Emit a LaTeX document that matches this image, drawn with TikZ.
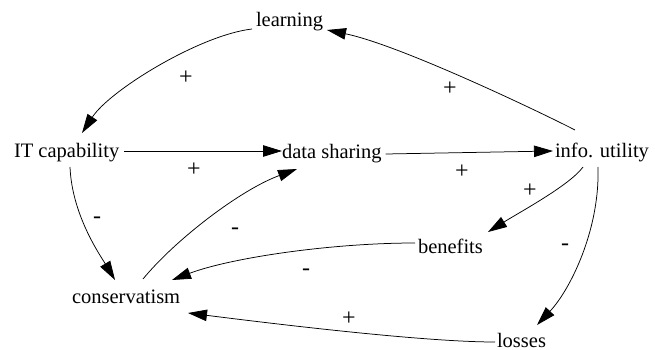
\documentclass[tikz,border=0pt]{standalone}
\usepackage{fontspec}
\setmainfont{Liberation Serif}
\usetikzlibrary{arrows.meta,calc}
\begin{document}
\begin{tikzpicture}[x=1pt,y=-1pt,
  var/.style={inner sep=0pt,outer sep=0pt,anchor=base west,font=\fontsize{20.5}{24}\selectfont},
  sgn/.style={inner sep=0pt,outer sep=0pt,font=\fontsize{24}{28}\selectfont},
  link/.style={line width=0.75pt,-{Triangle[length=19pt,width=11.5pt]}}]
\useasboundingbox (0,0) rectangle (655,350);
% variables
\node[var] (learning) at (256,27) {learning};
\node[var] (itcap) at (14,157) {IT capability};
\node[var] (data) at (282,158) {data sharing};
\node[var] (info) at (555,157) {info. utility};
\node[var] (benefits) at (418,253) {benefits};
\node[var] (cons) at (72,303) {conservatism};
\node[var] (losses) at (497,347) {losses};
% links
\draw[link] ($(learning.base west)+(-4,2)$) .. controls (200,35) and (110,90) .. ($(itcap.base west)+(68,-24)$);
\draw[link] ($(info.base west)+(20,-27)$) .. controls (540,112) and (400,45) .. ($(learning.base west)+(71,3)$);
\draw[link] ($(itcap.base east)+(5,-6)$) -- ($(data.base west)+(0,-7)$);
\draw[link] ($(data.base east)+(4,-4)$) -- ($(info.base west)+(-2,-6)$);
\draw[link] ($(itcap.base west)+(56,10)$) .. controls (72,215) and (100,255) .. ($(cons.base west)+(43,-23)$);
\draw[link] ($(cons.base west)+(71,-24)$) .. controls (175,240) and (240,190) .. ($(data.base west)+(15,11)$);
\draw[link] ($(info.base west)+(28,10)$) .. controls (570,185) and (520,212) .. ($(benefits.base west)+(70,-21)$);
\draw[link] ($(info.base west)+(43,10)$) .. controls (600,230) and (570,290) .. ($(losses.base west)+(40,-22)$);
\draw[link] ($(benefits.base west)+(-3,-10)$) .. controls (330,243) and (230,258) .. ($(cons.base west)+(100,-23)$);
\draw[link] ($(losses.base west)+(-2,-5)$) .. controls (420,342) and (260,322) .. ($(cons.base west)+(116,10)$);
% polarity signs
\node[sgn] (s1) at (186,78) {+};
\node[sgn] (s2) at (450,89) {+};
\node[sgn] (s3) at (194,170) {+};
\node[sgn] (s4) at (462,172) {+};
\node[sgn] (s5) at (97,220) {-};
\node[sgn] (s6) at (235,231) {-};
\node[sgn] (s7) at (530,191) {+};
\node[sgn] (s8) at (565,247) {-};
\node[sgn] (s9) at (306,272) {-};
\node[sgn] (s10) at (349,319) {+};
\end{tikzpicture}
\end{document}
